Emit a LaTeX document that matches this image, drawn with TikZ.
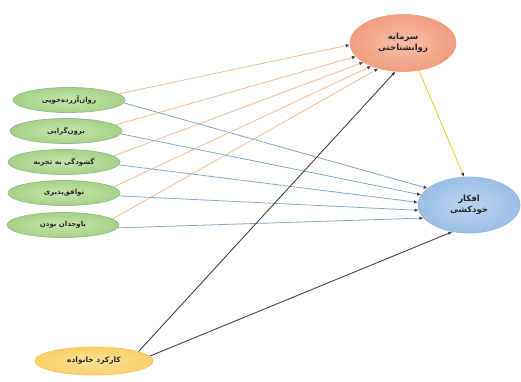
\documentclass[tikz,border=0pt]{standalone}
\usepackage{fontspec}
\newfontfamily\arabicfont[Script=Arabic]{DejaVu Sans}
\TeXXeTstate=1
\usetikzlibrary{shapes.geometric,arrows.meta}
\definecolor{grin}{HTML}{C6E6AE}
\definecolor{grout}{HTML}{A4D286}
\definecolor{grline}{HTML}{98B888}
\definecolor{orin}{HTML}{F7C0A8}
\definecolor{orout}{HTML}{F29E80}
\definecolor{orline}{HTML}{EFA27F}
\definecolor{blin}{HTML}{BAD4F0}
\definecolor{blout}{HTML}{9CBFE6}
\definecolor{blline}{HTML}{9CB8DA}
\definecolor{yein}{HTML}{FDE29A}
\definecolor{yeout}{HTML}{FAD068}
\definecolor{yeline}{HTML}{F2C860}
\definecolor{oredge}{HTML}{F3BE96}
\definecolor{bledge}{HTML}{8AA6C6}
\definecolor{yeedge}{HTML}{EDD24A}
\definecolor{gredge}{HTML}{444444}
\tikzset{
  ell/.style={ellipse, inner sep=0pt, line width=0.7pt, align=center, text=black!85},
  leftell/.style={ell, draw=grline, inner color=grin, outer color=grout, minimum width=112pt, minimum height=25pt, font=\arabicfont\fontsize{7}{8}\selectfont\bfseries},
  bigell/.style={ell, minimum width=106pt, minimum height=57pt, font=\arabicfont\fontsize{8.5}{10.5}\selectfont\bfseries},
  arr/.style={-{Latex[length=4pt,width=3.5pt,color=black!75]}, line width=0.8pt},
  oarr/.style={arr, draw=oredge},
  barr/.style={arr, draw=bledge},
  yarr/.style={arr, draw=yeedge, line width=1pt},
  garr/.style={arr, draw=gredge, line width=0.9pt}
}
\begin{document}
\begin{tikzpicture}[x=1pt,y=-1pt]
\useasboundingbox (0,0) rectangle (521,381);
\fill[white] (0,0) rectangle (521,381);
\node[leftell] (l1) at (69,100) {\beginR روان‌آزرده‌خویی\endR};
\node[leftell] (l2) at (66,131) {\beginR برون‌گرایی\endR};
\node[leftell] (l3) at (64,162) {\beginR گشودگی به تجربه\endR};
\node[leftell] (l4) at (64,193) {\beginR توافق‌پذیری\endR};
\node[leftell] (l5) at (63,225) {\beginR باوجدان بودن\endR};
\node[bigell, draw=orline, inner color=orin, outer color=orout] (pc) at (403,43) {\beginR سرمایه\endR\\\beginR روانشناختی\endR};
\node[bigell, draw=blline, inner color=blin, outer color=blout, minimum width=102pt, minimum height=56pt] (st) at (469,205) {\beginR افکار\endR\\\beginR خودکشی\endR};
\node[leftell, draw=yeline, inner color=yein, outer color=yeout, minimum width=118pt, minimum height=28pt, font=\arabicfont\fontsize{7.5}{9}\selectfont\bfseries] (ff) at (94,361) {\beginR کارکرد خانواده\endR};
% orange edges
\draw[oarr] (l1.7) -- (pc.182);
\draw[oarr] (l2.7) -- (pc.196);
\draw[oarr] (l3.7) -- (pc.206);
\draw[oarr] (l4.7) -- (pc.216);
\draw[oarr] (l5.7) -- (pc.226);
% blue edges
\draw[barr] (l1.-3) -- (st.158);
\draw[barr] (l2.-3) -- (st.168);
\draw[barr] (l3.-3) -- (st.177);
\draw[barr] (l4.-3) -- (st.186);
\draw[barr] (l5.-3) -- (st.196);
% yellow
\draw[yarr] (pc.-60) -- (st.100);
% gray
\draw[garr] (ff.12) -- (pc.255);
\draw[garr] (ff.5) -- (st.238);
\end{tikzpicture}
\end{document}
